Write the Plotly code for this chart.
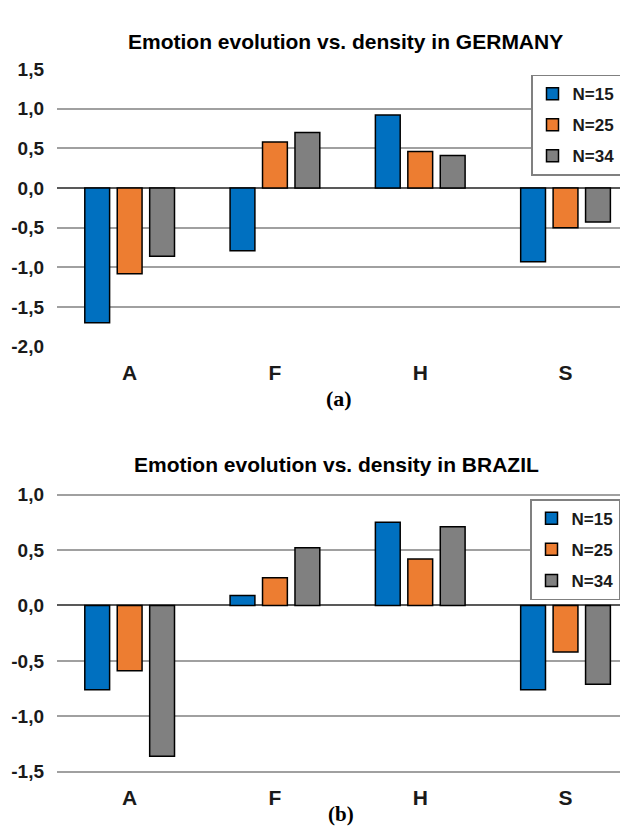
import plotly.graph_objects as go

categories = ["A", "F", "H", "S"]
series_names = ["N=15", "N=25", "N=34"]
colors = ["#0070C0", "#ED7D31", "#808080"]

germany_n15 = [-1.70, -0.79, 0.92, -0.93]
germany_n25 = [-1.08, 0.58, 0.46, -0.50]
germany_n34 = [-0.86, 0.70, 0.41, -0.43]

brazil_n15 = [-0.76, 0.09, 0.75, -0.76]
brazil_n25 = [-0.59, 0.25, 0.42, -0.42]
brazil_n34 = [-1.36, 0.52, 0.71, -0.71]

germany_tickvals = [-2.0, -1.5, -1.0, -0.5, 0.0, 0.5, 1.0, 1.5]
germany_ticktext = ["-2,0", "-1,5", "-1,0", "-0,5", "0,0", "0,5", "1,0", "1,5"]
brazil_tickvals = [-1.5, -1.0, -0.5, 0.0, 0.5, 1.0]
brazil_ticktext = ["-1,5", "-1,0", "-0,5", "0,0", "0,5", "1,0"]

title_germany = "Emotion evolution vs. density in GERMANY"
title_brazil = "Emotion evolution vs. density in BRAZIL"

FONT = "Liberation Sans"
W, H = 628, 832

fig = go.Figure()

germany = [germany_n15, germany_n25, germany_n34]
brazil = [brazil_n15, brazil_n25, brazil_n34]

for i, (name, vals) in enumerate(zip(series_names, germany)):
    fig.add_trace(go.Bar(
        x=categories, y=vals, name=name, xaxis="x", yaxis="y",
        marker=dict(color=colors[i], line=dict(color="#000000", width=1.5)),
        legend="legend", legendgroup="g" + name,
    ))
for i, (name, vals) in enumerate(zip(series_names, brazil)):
    fig.add_trace(go.Bar(
        x=categories, y=vals, name=name, xaxis="x2", yaxis="y2",
        marker=dict(color=colors[i], line=dict(color="#000000", width=1.5)),
        legend="legend2", legendgroup="b" + name,
    ))

x_dom = [49 / W, 1.0]
xcommon = dict(
    type="category", range=[-0.5, 3.485], showgrid=False, zeroline=False,
    showline=False, ticks="outside", ticklen=0,
    tickfont=dict(family=FONT, size=21, color="#1a1a1a", weight="bold"),
    ticklabelstandoff=6,
)
ycommon = dict(
    showgrid=True, gridcolor="#A0A0A0", gridwidth=2,
    zeroline=True, zerolinecolor="#595959", zerolinewidth=2,
    showline=False, ticks="", ticklabelstandoff=12,
    tickfont=dict(family=FONT, size=19, color="#1a1a1a", weight="bold"),
)

legend_common = dict(
    xanchor="left", yanchor="top",
    bgcolor="white", bordercolor="#808080", borderwidth=1.5,
    font=dict(family=FONT, size=17, color="#1a1a1a", weight="bold"),
    tracegroupgap=6, entrywidth=60, entrywidthmode="pixels",
)

fig.update_layout(
    width=W, height=H,
    margin=dict(l=0, r=0, t=0, b=0),
    paper_bgcolor="white", plot_bgcolor="white",
    barmode="group", bargap=0.33, bargroupgap=0.235,
    xaxis=dict(domain=x_dom, anchor="y", **xcommon),
    yaxis=dict(domain=[1 - 337.5 / H, 1 - 51.5 / H], anchor="x",
               range=[-2.01, 1.51], tickvals=germany_tickvals,
               ticktext=germany_ticktext, **ycommon),
    xaxis2=dict(domain=x_dom, anchor="y2", **xcommon),
    yaxis2=dict(domain=[1 - 773.4 / H, 1 - 487.2 / H], anchor="x2",
                range=[-1.51, 1.01], tickvals=brazil_tickvals,
                ticktext=brazil_ticktext, **ycommon),
    legend=dict(x=523 / W, y=1 - 58 / H, **legend_common),
    legend2=dict(x=522 / W, y=1 - 493 / H, **legend_common),
    showlegend=True,
)

fig.add_annotation(
    text=title_germany, xref="paper", yref="paper",
    x=337 / W, y=1 - 24 / H, xanchor="center", yanchor="middle",
    showarrow=False, font=dict(family=FONT, size=21, color="#000000", weight="bold"),
)
fig.add_annotation(
    text=title_brazil, xref="paper", yref="paper",
    x=328 / W, y=1 - 457 / H, xanchor="center", yanchor="middle",
    showarrow=False, font=dict(family=FONT, size=21, color="#000000", weight="bold"),
)
fig.add_annotation(
    text="(a)", xref="paper", yref="paper",
    x=331 / W, y=1 - 390 / H, xanchor="center", yanchor="middle",
    showarrow=False, font=dict(family="Liberation Serif", size=22, color="#000000", weight="bold"),
)
fig.add_annotation(
    text="(b)", xref="paper", yref="paper",
    x=333 / W, y=1 - 816 / H, xanchor="center", yanchor="middle",
    showarrow=False, font=dict(family="Liberation Serif", size=21, color="#000000", weight="bold"),
)

fig.write_html("out.html")
